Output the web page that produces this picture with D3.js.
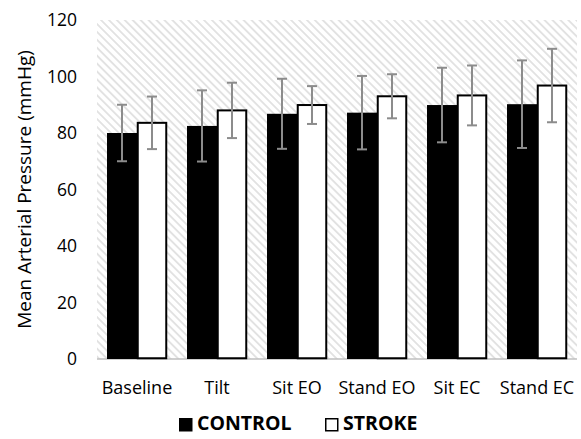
<!DOCTYPE html>
<html>
<head>
<meta charset="utf-8">
<script src="https://cdn.jsdelivr.net/npm/d3@7"></script>
<style>
  html, body { margin: 0; padding: 0; background: #fff; }
  svg { display: block; font-family: 'Open Sans', 'Liberation Sans', sans-serif; }
</style>
</head>
<body>
<div id="chart"></div>
<script>
'use strict';

// ── Data ───────────────────────────────────────────────────────────────────
const conditions  = ['Baseline', 'Tilt', 'Sit EO', 'Stand EO', 'Sit EC', 'Stand EC'];
const controlMean = [80.0, 82.5, 86.8, 87.2, 89.9, 90.2];
const controlSd   = [10.0, 12.6, 12.4, 13.0, 13.2, 15.5];
const strokeMean  = [83.6, 88.0, 89.9, 93.0, 93.3, 96.8];
const strokeSd    = [9.3, 9.8, 6.7, 7.8, 10.6, 13.0];
const yTicks      = [0, 20, 40, 60, 80, 100, 120];
const groups      = ['CONTROL', 'STROKE'];

const FILL   = { CONTROL: '#000000', STROKE: '#ffffff' };
const width  = 581, height = 439;
const margin = { top: 20, right: 4, bottom: 80, left: 97 };
const W = width - margin.left - margin.right;
const H = height - margin.top - margin.bottom;

const svg = d3.select('#chart').append('svg')
  .attr('width', width).attr('height', height);

// hatch pattern for plot background (wide downward diagonal)
const defs = svg.append('defs');
const pat = defs.append('pattern')
  .attr('id', 'hatch')
  .attr('patternUnits', 'userSpaceOnUse')
  .attr('width', 5.6).attr('height', 5.6)
  .attr('patternTransform', 'rotate(45)');
pat.append('rect').attr('width', 5.6).attr('height', 5.6).attr('fill', '#fff');
pat.append('line')
  .attr('x1', 0).attr('y1', 2.8).attr('x2', 5.6).attr('y2', 2.8)
  .attr('stroke', '#dedede').attr('stroke-width', 1.6);

const g = svg.append('g').attr('transform', `translate(${margin.left},${margin.top})`);

const x = d3.scaleBand().domain(conditions).range([0, W]).paddingInner(0.25).paddingOuter(0.125);
const xs = d3.scaleBand().domain(groups).range([0, x.bandwidth()]);
const y = d3.scaleLinear().domain([0, 120]).range([H, 0]);

g.append('rect').attr('width', W).attr('height', H).attr('fill', 'url(#hatch)');

// baseline
g.append('line')
  .attr('x1', 0).attr('x2', W).attr('y1', H).attr('y2', H)
  .attr('stroke', '#bfbfbf').attr('stroke-width', 1.5);

const rows = conditions.map((c, i) => ({
  cond: c,
  bars: [
    { key: 'CONTROL', mean: controlMean[i], sd: controlSd[i] },
    { key: 'STROKE',  mean: strokeMean[i],  sd: strokeSd[i] },
  ],
}));

const grp = g.selectAll('.grp').data(rows).join('g')
  .attr('class', 'grp')
  .attr('transform', d => `translate(${x(d.cond)},0)`);

grp.selectAll('rect').data(d => d.bars).join('rect')
  .attr('x', d => xs(d.key) + (d.key === 'STROKE' ? 0.75 : 0))
  .attr('y', d => y(d.mean))
  .attr('width', d => xs.bandwidth() - (d.key === 'STROKE' ? 1.5 : 0))
  .attr('height', d => H - y(d.mean) - (d.key === 'STROKE' ? 0.75 : 0))
  .attr('fill', d => FILL[d.key])
  .attr('stroke', '#000')
  .attr('stroke-width', d => d.key === 'STROKE' ? 2 : 0);

// error bars
const eb = grp.selectAll('.eb').data(d => d.bars).join('g').attr('class', 'eb')
  .attr('stroke', '#8c8c8c').attr('stroke-width', 2);
const cx = d => xs(d.key) + xs.bandwidth() / 2;
eb.append('line')
  .attr('x1', cx).attr('x2', cx)
  .attr('y1', d => y(d.mean + d.sd)).attr('y2', d => y(d.mean - d.sd));
eb.append('line')
  .attr('x1', d => cx(d) - 5).attr('x2', d => cx(d) + 5)
  .attr('y1', d => y(d.mean + d.sd)).attr('y2', d => y(d.mean + d.sd));
eb.append('line')
  .attr('x1', d => cx(d) - 5).attr('x2', d => cx(d) + 5)
  .attr('y1', d => y(d.mean - d.sd)).attr('y2', d => y(d.mean - d.sd));

// axes
const yAxis = g.append('g')
  .call(d3.axisLeft(y).tickValues(yTicks).tickSize(0).tickPadding(20));
yAxis.select('.domain').remove();
yAxis.selectAll('text').attr('font-size', '17.5px').attr('fill', '#000')
  .attr('font-family', "'Open Sans', sans-serif");

const xAxis = g.append('g').attr('transform', `translate(0,${H})`)
  .call(d3.axisBottom(x).tickSize(0).tickPadding(22));
xAxis.select('.domain').remove();
xAxis.selectAll('text').attr('font-size', '18px').attr('fill', '#000')
  .attr('font-family', "'Open Sans', sans-serif");

svg.append('text')
  .attr('transform', `translate(26,${margin.top + H / 2}) rotate(-90)`)
  .attr('text-anchor', 'middle')
  .attr('dominant-baseline', 'middle')
  .attr('font-size', '19px')
  .text('Mean Arterial Pressure (mmHg)');

// legend
const legend = svg.append('g').attr('transform', 'translate(179,425)');
const legX = [0, 146];
groups.forEach((k, i) => {
  const lg = legend.append('g').attr('transform', `translate(${legX[i]},0)`);
  lg.append('rect')
    .attr('x', 0.75).attr('y', -6.25).attr('width', 12).attr('height', 12)
    .attr('fill', FILL[k]).attr('stroke', '#000').attr('stroke-width', 1.5);
  lg.append('text')
    .attr('x', 18).attr('y', 0).attr('dominant-baseline', 'middle')
    .attr('font-size', '19.5px').attr('font-weight', 'bold')
    .text(k);
});
</script>
</body>
</html>
